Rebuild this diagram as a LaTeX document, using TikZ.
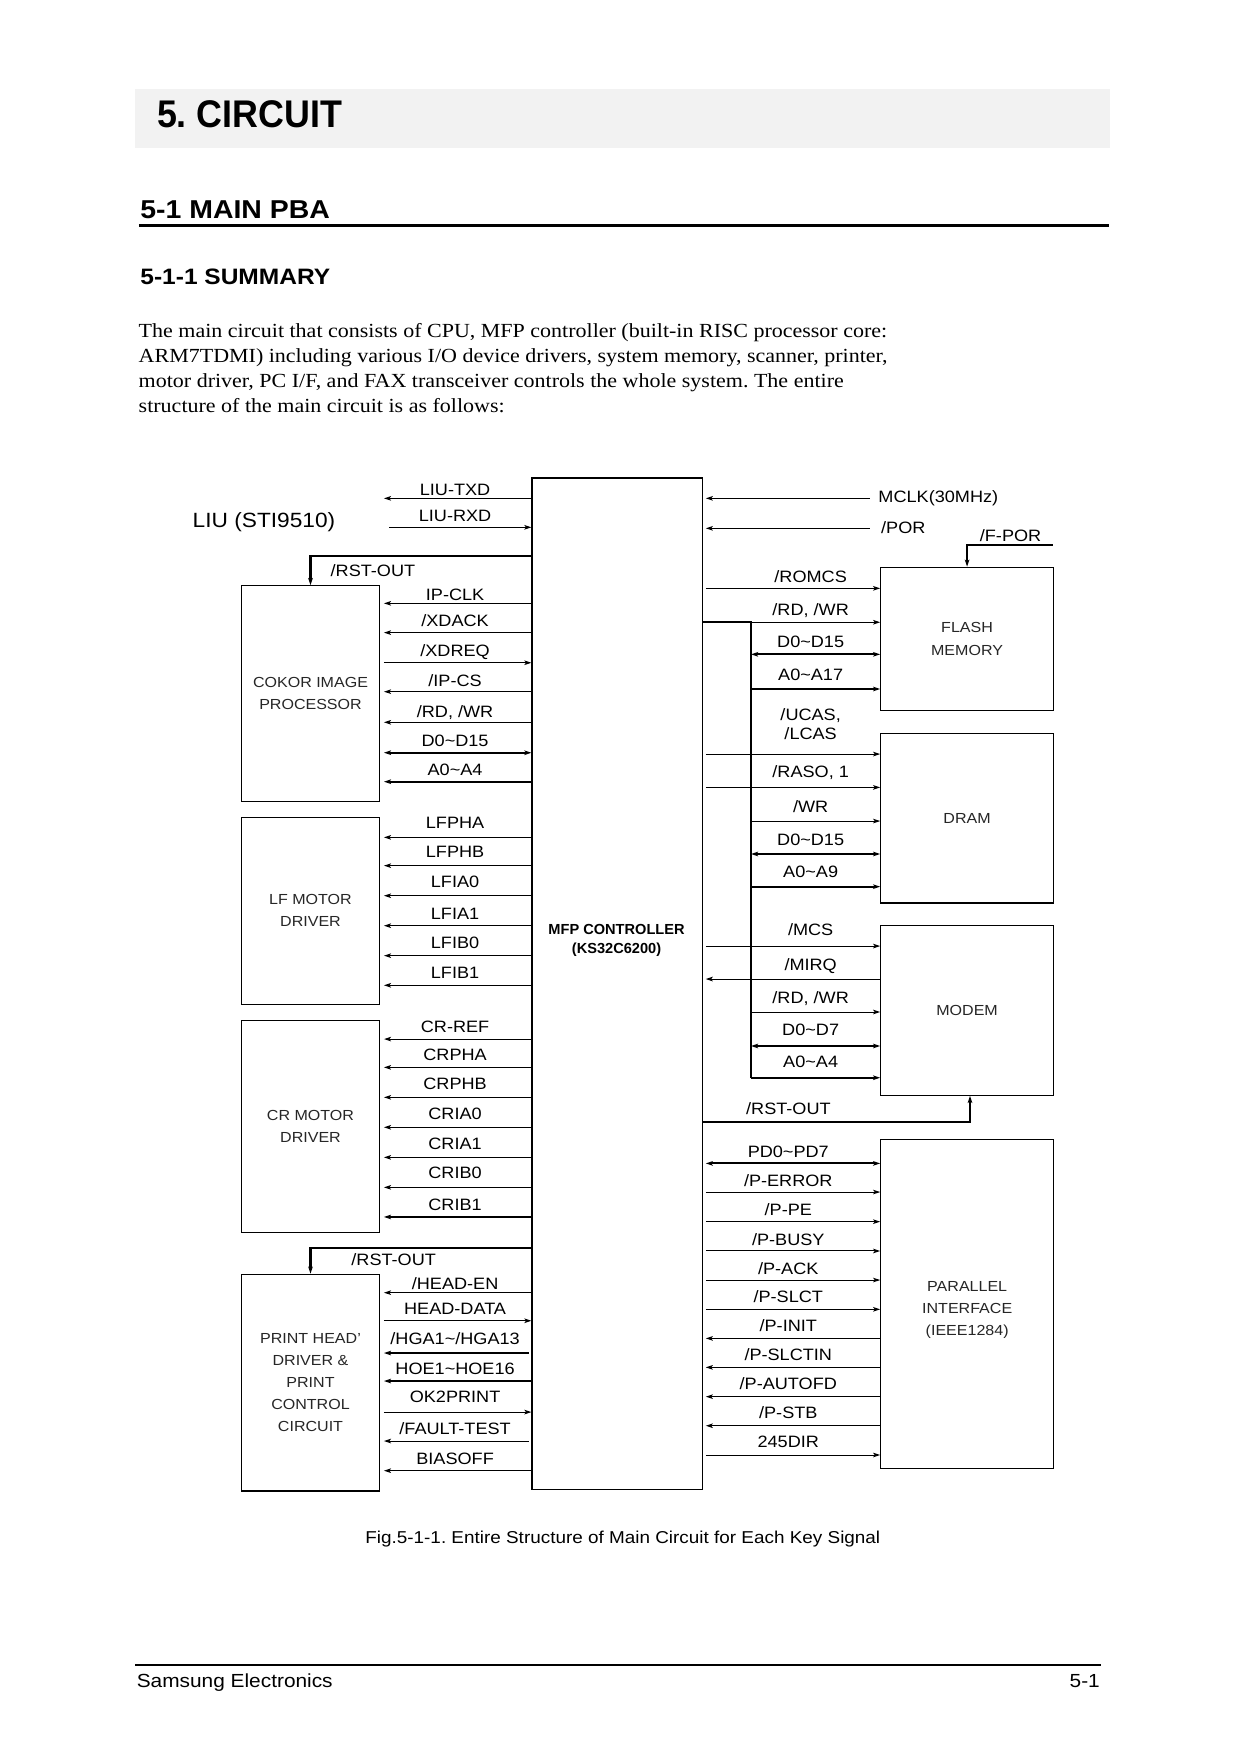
\documentclass[tikz,border=0pt]{standalone}
\usepackage{fontspec}
\usepackage{graphicx}
\setmainfont{Liberation Sans}[FakeStretch=1.1]
\newfontfamily\plainsans{Liberation Sans}
\newfontfamily\bodyserif{Liberation Serif}[FakeStretch=1.1]
\usetikzlibrary{arrows.meta}
\definecolor{hdrgray}{HTML}{F2F2F2}
\def\uu{0.5367pt}
\newcommand\tld{\textasciitilde}
\newcommand\mybox[6]{\node[blk, minimum width={(#4-#2)*\uu}, minimum height={(#5-#3)*\uu}] (#1) at ({(#2+#4)/2},{(#3+#5)/2}) {#6};}
\newcommand\lsig[5]{\draw[#1] (ltip |- 0,#2) -- (mfp.west |- 0,#2); \node[lbl] (#3) at (407,#4) {#5};}
\newcommand\rsig[8]{\draw[#1] (#2 |- 0,#4) -- (#3 |- 0,#4); \node[lbl] (#5) at (#6,#7) {#8};}
\frenchspacing
\begin{document}
\begin{tikzpicture}[x=0.5367pt,y=-0.5367pt,
  >={Stealth[length=3.4pt,width=2.2pt,inset=0.8pt]},
  blk/.style={draw, line width=0.55pt, inner sep=0pt, align=center, font=\fontsize{7}{10.6}\selectfont, text=black!85},
  btxt/.style={inner sep=0pt, align=center, font=\fontsize{7}{10.6}\selectfont, text=black!85},
  lbl/.style={inner sep=0pt, font=\fontsize{7.9}{9.5}\selectfont, text height=5.66pt, text depth=0pt},
  tl/.style={line width=0.5pt},
  tk/.style={line width=1pt},
  plain/.style={inner sep=0pt, text depth=0pt}]
\fill[white] (0,0) rectangle (1109,1568.7);
\useasboundingbox (0,0) rectangle (1109,1568.7);
% ---------- header ----------
\node[fill=hdrgray, minimum width={872.3*\uu}, minimum height={52.5*\uu}, inner sep=0pt] (hdr) at (556.85,105.85) {};
\node[plain, anchor=west, text height=13.2pt, font=\plainsans\bfseries\fontsize{18.5}{20}\selectfont] (title) at (140.1,102.1) {\scalebox{0.93}[1]{5. CIRCUIT}};
\node[plain, anchor=west, text height=8.8pt, font=\bfseries\fontsize{12.4}{14}\selectfont] (sec) at (125.2,187.1) {5-1 MAIN PBA};
\draw[line width=1.3pt] (124.3,201.5) -- (992,201.5);
\node[plain, anchor=west, text height=7.7pt, font=\bfseries\fontsize{10.7}{13}\selectfont] (subsec) at (125.2,247.4) {5-1-1 SUMMARY};
\begin{scope}[every node/.style={anchor=base west, inner sep=0pt, font=\bodyserif\fontsize{9.6}{11}\selectfont}]
\node (p1) at (123.7,301.7) {The main circuit that consists of CPU, MFP controller (built-in RISC processor core:};
\node (p2) at (123.7,324.4) {ARM7TDMI) including various I/O device drivers, system memory, scanner, printer,};
\node (p3) at (123.7,346.7) {motor driver, PC I/F, and FAX transceiver controls the whole system. The entire};
\node (p4) at (123.7,369.1) {structure of the main circuit is as follows:};
\end{scope}
% ---------- blocks ----------
\mybox{mfp}{475.8}{427.5}{628.4}{1332}{}
\node[plain, align=center, font=\plainsans\bfseries\fontsize{7}{8.9}\selectfont] (mfptxt) at (551.4,839.5) {MFP CONTROLLER\\(KS32C6200)};
\mybox{cip}{216.1}{523.8}{339.3}{717}{COKOR IMAGE\\PROCESSOR}
\mybox{lfm}{216.1}{731}{339.3}{898}{LF MOTOR\\DRIVER}
\mybox{crm}{216.1}{912.6}{339.3}{1102.2}{CR MOTOR\\DRIVER}
\mybox{phd}{216.1}{1139.7}{339.3}{1333.5}{PRINT HEAD'\\DRIVER \&\\PRINT\\CONTROL\\CIRCUIT}
\mybox{flash}{787.7}{507.4}{942.1}{635.6}{FLASH\\MEMORY}
\mybox{dram}{787.7}{655.9}{942.1}{807.6}{DRAM}
\mybox{modem}{787.7}{827.9}{942.1}{979.6}{MODEM}
\mybox{par}{787.7}{1019}{942.1}{1313.2}{}
\node[btxt] (partxt) at (865,1171.8) {PARALLEL\\INTERFACE\\(IEEE1284)};
% ---------- helper coordinates ----------
\coordinate (ltip) at (343.4,0);
\coordinate (lshort) at (473.4,0);
\coordinate (rxdstart) at (348,471.6);
\coordinate (rgap) at (631.2,0);
\coordinate (busx) at (671.7,0);
\coordinate (mclkend) at (778,445.7);
\coordinate (porend) at (778,472.5);
\coordinate (fporend) at (941.5,487.4);
% ---------- left side ----------
\node[plain, anchor=west, text height=7.1pt, font=\fontsize{9.9}{12}\selectfont] (liu) at (172,465.5) {LIU (STI9510)};
\lsig{tl,<-}{445.7}{ltxd}{437.5}{LIU-TXD}
\draw[tl,->] (rxdstart) -- (mfp.west |- rxdstart);
\node[lbl] (lrxd) at (407,461.3) {LIU-RXD};
\draw[tk,->] (mfp.west |- 0,497.3) -| (cip.north);
\node[lbl] (rst1) at (333.5,510.5) {/RST-OUT};
\lsig{tl,<-}{539.6}{ipclk}{531.4}{IP-CLK}
\lsig{tl,<-}{565.8}{xdack}{555.2}{/XDACK}
\lsig{tl,->}{592.7}{xdreq}{582.1}{/XDREQ}
\lsig{tl,<-}{618.6}{ipcs}{608.9}{/IP-CS}
\lsig{tl,<-}{646}{crdwr}{636.5}{/RD, /WR}
\lsig{tk,<->}{673.2}{cdata}{662.6}{D0\tld D15}
\lsig{tk,<-}{699.1}{caddr}{687.9}{A0\tld A4}
\lsig{tl,<-}{748.9}{lfpha}{736.1}{LFPHA}
\lsig{tl,<-}{774.2}{lfphb}{761.7}{LFPHB}
\lsig{tl,<-}{801.1}{lfia0}{788.5}{LFIA0}
\lsig{tl,<-}{827.9}{lfia1}{816.9}{LFIA1}
\lsig{tl,<-}{854.7}{lfib0}{843.1}{LFIB0}
\lsig{tl,<-}{881.2}{lfib1}{869.9}{LFIB1}
\lsig{tl,<-}{929.3}{crref}{918.2}{CR-REF}
\lsig{tl,<-}{954.6}{crpha}{943.6}{CRPHA}
\lsig{tl,<-}{981.4}{crphb}{968.9}{CRPHB}
\lsig{tl,<-}{1008.2}{cria0}{996}{CRIA0}
\lsig{tl,<-}{1035.1}{cria1}{1022.6}{CRIA1}
\lsig{tl,<-}{1061.9}{crib0}{1048.8}{CRIB0}
\lsig{tl,<-}{1088.4}{crib1}{1077.7}{CRIB1}
\draw[tk,->] (mfp.west |- 0,1115.9) -| (phd.north);
\node[lbl] (rst2) at (352.1,1126.9) {/RST-OUT};
\lsig{tl,<-}{1156.1}{heden}{1147.8}{/HEAD-EN}
\lsig{tl,->}{1181.2}{hdata}{1170.1}{HEAD-DATA}
\draw[tk,<-] (ltip |- 0,1210.1) -- (lshort |- 0,1210.1);
\node[lbl] (hga) at (407,1197) {/HGA1\tld/HGA13};
\lsig{tk,<-}{1235.1}{hoe}{1223.8}{HOE1\tld HOE16}
\lsig{tl,->}{1262.9}{okp}{1249.2}{OK2PRINT}
\draw[tl,<-] (ltip |- 0,1288.8) -- (lshort |- 0,1288.8);
\node[lbl] (fault) at (407,1277.5) {/FAULT-TEST};
\lsig{tl,<-}{1315.3}{bias}{1304.3}{BIASOFF}
% ---------- right side ----------
\draw[tl,->] (mclkend) -- (rgap |- mclkend);
\node[lbl, anchor=west] (mclk) at (785.3,444.2) {MCLK(30MHz)};
\draw[tl,->] (porend) -- (rgap |- porend);
\node[lbl, anchor=west] (por) at (787.7,471.8) {/POR};
\draw[tk,->] (fporend) -| (flash.north);
\node[lbl] (fpor) at (903.8,479.2) {/F-POR};
\rsig{tl,->}{rgap}{flash.west}{526.2}{romcs}{725}{515.8}{/ROMCS}
\draw[tk] (mfp.east |- 0,556.5) -| (busx |- 0,963.9);
\rsig{tl,->}{busx}{flash.west}{556.5}{frdwr}{725}{545.6}{/RD, /WR}
\rsig{tk,<->}{busx}{flash.west}{585.2}{fdata}{725}{573.9}{D0\tld D15}
\rsig{tk,->}{busx}{flash.west}{616.2}{faddr}{725}{603.7}{A0\tld A17}
\rsig{tl,->}{rgap}{dram.west}{674.4}{ucas}{725}{638.7}{/UCAS,}
\node[lbl] (lcas) at (725,655.9) {/LCAS};
\rsig{tl,->}{rgap}{dram.west}{704.2}{raso}{725}{690.2}{/RASO, 1}
\rsig{tl,->}{busx}{dram.west}{734.3}{dwr}{725}{721.5}{/WR}
\rsig{tk,<->}{busx}{dram.west}{763.8}{ddata}{725}{750.5}{D0\tld D15}
\rsig{tk,->}{busx}{dram.west}{793}{daddr}{725}{779.6}{A0\tld A9}
\rsig{tl,->}{rgap}{modem.west}{846.1}{mcs}{725}{831.8}{/MCS}
\rsig{tl,<-}{rgap}{modem.west}{875.6}{mirq}{725}{863.1}{/MIRQ}
\rsig{tl,->}{busx}{modem.west}{905.1}{mrdwr}{725}{892.1}{/RD, /WR}
\rsig{tk,<->}{busx}{modem.west}{935.5}{mdata}{725}{921.2}{D0\tld D7}
\rsig{tk,->}{busx}{modem.west}{963.9}{maddr}{725}{949.5}{A0\tld A4}
\draw[tk,->] (mfp.east |- 0,1003.5) -| ([xshift=1.4pt]modem.south);
\node[lbl] (rst3) at (705.1,991.2) {/RST-OUT};
\rsig{tk,<->}{rgap}{par.west}{1040.5}{pd}{705}{1030}{PD0\tld PD7}
\rsig{tl,->}{rgap}{par.west}{1066.1}{perr}{705}{1056}{/P-ERROR}
\rsig{tl,->}{rgap}{par.west}{1092.6}{ppe}{705}{1082.2}{/P-PE}
\rsig{tl,->}{rgap}{par.west}{1118.8}{pbusy}{705}{1108.4}{/P-BUSY}
\rsig{tl,->}{rgap}{par.west}{1144.8}{pack}{705}{1134.4}{/P-ACK}
\rsig{tl,->}{rgap}{par.west}{1171}{pslct}{705}{1159.7}{/P-SLCT}
\rsig{tl,<-}{rgap}{par.west}{1197}{pinit}{705}{1185.9}{/P-INIT}
\rsig{tl,<-}{rgap}{par.west}{1222.9}{pslctin}{705}{1211.9}{/P-SLCTIN}
\rsig{tl,<-}{rgap}{par.west}{1249.1}{pauto}{705}{1237.2}{/P-AUTOFD}
\rsig{tl,<-}{rgap}{par.west}{1275.1}{pstb}{705}{1263.5}{/P-STB}
\rsig{tl,->}{rgap}{par.west}{1301.3}{pdir}{705}{1289.4}{245DIR}
% ---------- caption and footer ----------
\node[plain, text height=5.9pt, font=\fontsize{8.25}{10}\selectfont] (cap) at (557,1375) {Fig.5-1-1. Entire Structure of Main Circuit for Each Key Signal};
\draw[line width=1.1pt] (121,1489) -- (985,1489);
\node[plain, anchor=west, text height=6.5pt, font=\fontsize{9.1}{11}\selectfont] (foot1) at (122,1503.5) {Samsung Electronics};
\node[plain, anchor=east, text height=6.5pt, font=\fontsize{9.1}{11}\selectfont] (foot2) at (984,1503.5) {5-1};
\end{tikzpicture}
\end{document}
